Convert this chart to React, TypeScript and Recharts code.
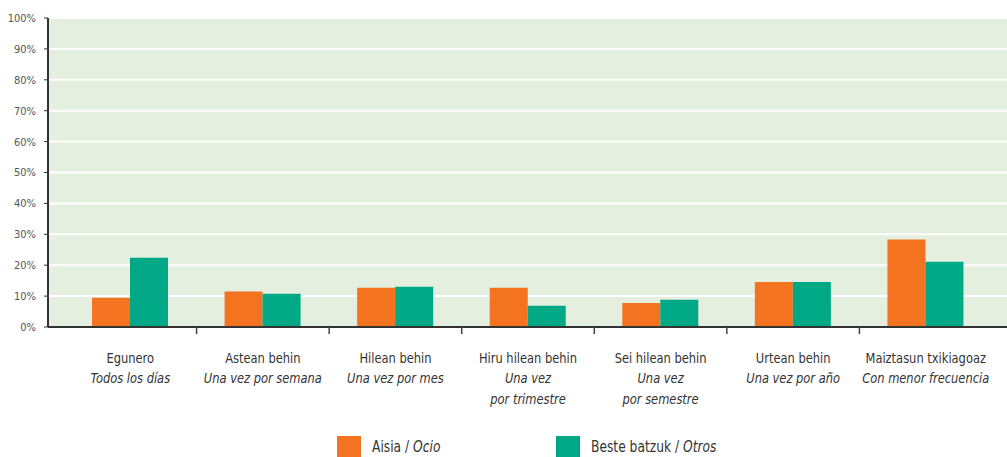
import React from "react";
import { BarChart, Bar, XAxis, YAxis, CartesianGrid } from "recharts";

const categoriesEu = ["Egunero", "Astean behin", "Hilean behin", "Hiru hilean behin", "Sei hilean behin", "Urtean behin", "Maiztasun txikiagoaz"];
const categoriesEsLine1 = ["Todos los días", "Una vez por semana", "Una vez por mes", "Una vez", "Una vez", "Una vez por año", "Con menor frecuencia"];
const categoriesEsLine2 = ["", "", "", "por trimestre", "por semestre", "", ""];
const ocioValues = [9.5, 11.5, 12.7, 12.7, 7.8, 14.6, 28.3];
const otrosValues = [22.4, 10.8, 13.0, 6.9, 8.8, 14.6, 21.1];
const yTicks = [0, 10, 20, 30, 40, 50, 60, 70, 80, 90, 100];
const seriesNames = { ocio: ["Aisia", "Ocio"], otros: ["Beste batzuk", "Otros"] };

const data = categoriesEu.map((c, i) => ({
  name: c,
  es1: categoriesEsLine1[i],
  es2: categoriesEsLine2[i],
  ocio: ocioValues[i],
  otros: otrosValues[i],
}));

const FONT = '"DejaVu Sans Condensed", "Liberation Sans Narrow", sans-serif';
const ORANGE = "#f47321";
const GREEN = "#00a886";

const W = 1007;
const H = 457;
const YW = 48;
const PAD_L = 16;
const PAD_R = 15;
const STEP = (W - YW - PAD_L - PAD_R) / categoriesEu.length;
const SX = 0.88;

const XTick = (props: any) => {
  const { x, y, payload, index } = props;
  const d = data[index];
  return (
    <g>
      {index < data.length - 1 && (
        <line x1={x + STEP / 2} x2={x + STEP / 2} y1={y - 8} y2={y - 1} stroke="#444" strokeWidth={1.5} />
      )}
      <g transform={`translate(${x},0) scale(${SX},1)`}>
        <text x={0} y={y + 28} textAnchor="middle" fontFamily={FONT} fontSize={14.5} fill="#333">
          {payload.value}
        </text>
        <text x={0} y={y + 48} textAnchor="middle" fontFamily={FONT} fontSize={14.5} fill="#333" fontStyle="italic">
          {d ? d.es1 : ""}
        </text>
        {d && d.es2 && (
          <text x={0} y={y + 69} textAnchor="middle" fontFamily={FONT} fontSize={14.5} fill="#333" fontStyle="italic">
            {d.es2}
          </text>
        )}
      </g>
    </g>
  );
};

const legendText: React.CSSProperties = {
  display: "inline-block",
  transform: `scaleX(${SX})`,
  transformOrigin: "left center",
  whiteSpace: "nowrap",
};

export default function App() {
  return (
    <div style={{ position: "absolute", left: 0, top: 0, width: W, height: H, background: "#fff" }}>
      <BarChart
        width={W}
        height={H}
        data={data}
        margin={{ top: 18, right: 0, left: 0, bottom: 30 }}
        barGap={0}
        barSize={38}
      >
        <CartesianGrid vertical={false} stroke="#ffffff" strokeWidth={2} fill="#e4efdf" />
        <XAxis
          dataKey="name"
          height={100}
          padding={{ left: PAD_L, right: PAD_R }}
          axisLine={{ stroke: "#333", strokeWidth: 2 }}
          tickLine={false}
          interval={0}
          tick={<XTick />}
        />
        <YAxis
          width={YW}
          domain={[0, 100]}
          ticks={yTicks}
          interval={0}
          tickFormatter={(v: number) => `${v}%`}
          axisLine={{ stroke: "#333", strokeWidth: 2 }}
          tickLine={{ stroke: "#333" }}
          tickSize={4}
          tickMargin={8}
          tick={{ fontFamily: FONT, fontSize: 11, fill: "#555" }}
        />
        <Bar dataKey="ocio" fill={ORANGE} isAnimationActive={false} />
        <Bar dataKey="otros" fill={GREEN} isAnimationActive={false} />
      </BarChart>
      <div style={{ position: "absolute", top: 436, left: 337, display: "flex", alignItems: "center", fontFamily: FONT, fontSize: 15.5, color: "#333" }}>
        <span style={{ display: "inline-block", width: 24, height: 22, background: ORANGE, marginRight: 11 }} />
        <span style={legendText}>
          {seriesNames.ocio[0]} / <i>{seriesNames.ocio[1]}</i>
        </span>
      </div>
      <div style={{ position: "absolute", top: 436, left: 556, display: "flex", alignItems: "center", fontFamily: FONT, fontSize: 15.5, color: "#333" }}>
        <span style={{ display: "inline-block", width: 24, height: 22, background: GREEN, marginRight: 11 }} />
        <span style={legendText}>
          {seriesNames.otros[0]} / <i>{seriesNames.otros[1]}</i>
        </span>
      </div>
    </div>
  );
}
